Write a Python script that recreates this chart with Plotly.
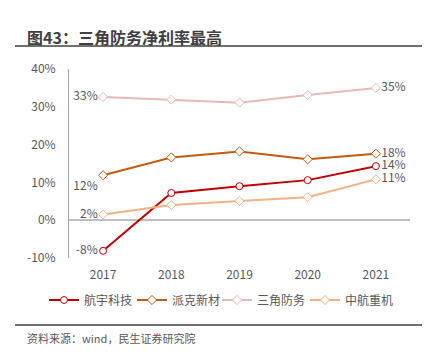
import plotly.graph_objects as go

years = ["2017", "2018", "2019", "2020", "2021"]
hangyu = [-8.1, 7.2, 9.0, 10.6, 14.3]
paike = [11.9, 16.6, 18.2, 16.1, 17.6]
sanjiao = [32.6, 31.9, 31.1, 33.1, 35.0]
zhonghang = [1.5, 4.0, 5.1, 6.1, 10.8]
series_names = ["航宇科技", "派克新材", "三角防务", "中航重机"]
colors = ["#C00000", "#C55A11", "#E6B9B8", "#F4B183"]
symbols = ["circle", "diamond", "diamond", "diamond"]
first_pos = ["middle left", "bottom left", "middle left", "middle left"]
y_ticks = [-10, 0, 10, 20, 30, 40]
y_tick_text = ["-10%", "0%", "10%", "20%", "30%", "40%"]

FONT = "Noto Sans CJK SC"
legend_ids = ["legend", "legend2", "legend3", "legend4"]
legend_x = [44, 132, 217, 305]

fig = go.Figure()
for name, vals, col, sym, fp, lid in zip(series_names, [hangyu, paike, sanjiao, zhonghang], colors, symbols, first_pos, legend_ids):
    texts = [f"{round(vals[0]):d}%"] + [""] * (len(vals) - 2) + [f"{round(vals[-1]):d}%"]
    positions = [fp] + ["middle right"] * (len(vals) - 1)
    fig.add_trace(go.Scatter(
        x=years, y=vals, name=name, mode="lines+markers+text",
        line=dict(color=col, width=2),
        marker=dict(symbol=sym, size=7, color="white", line=dict(color=col, width=1)),
        text=texts, textposition=positions,
        textfont=dict(size=12, color="#595959", family=FONT),
        cliponaxis=False, legend=lid,
    ))

legend_common = dict(orientation="h", xref="container", yref="container", y=1 - 300 / 357,
                     xanchor="left", yanchor="middle", font=dict(size=12, color="#595959", family=FONT),
                     itemwidth=30, bgcolor="rgba(0,0,0,0)")
legends = {lid: dict(x=lx / 440, **legend_common) for lid, lx in zip(legend_ids, legend_x)}

fig.update_layout(
    width=440, height=357,
    margin=dict(l=69, r=30, t=69, b=99, autoexpand=False),
    paper_bgcolor="white", plot_bgcolor="white",
    font=dict(family=FONT, color="#595959", size=12),
    showlegend=True,
    xaxis=dict(type="category", range=[-0.5, 4.5], showgrid=False, showline=False, ticks="",
               tickfont=dict(size=12, color="#595959"), ticklabelstandoff=8, automargin=False),
    yaxis=dict(range=[-10, 40], tickvals=y_ticks, ticktext=y_tick_text, showgrid=False,
               showline=True, linecolor="#A6A6A6", linewidth=1, ticks="",
               zeroline=True, zerolinecolor="#BFBFBF", zerolinewidth=1.5,
               tickfont=dict(size=12, color="#595959"), ticklabelstandoff=10, automargin=False),
    shapes=[
        dict(type="line", xref="paper", yref="paper", x0=-54/341, x1=353/341,
             y0=1 + 23/189, y1=1 + 23/189, line=dict(color="#404040", width=1.5)),
        dict(type="line", xref="paper", yref="paper", x0=-54/341, x1=353/341,
             y0=-67/189, y1=-67/189, line=dict(color="#404040", width=1.5)),
    ],
    annotations=[
        dict(text="<b>图43：三角防务净利率最高</b>", xref="paper", yref="paper",
             x=-44/341, y=1 + 32/189, xanchor="left", yanchor="middle", showarrow=False,
             font=dict(size=16, color="#404040", family=FONT)),
        dict(text="资料来源：wind，民生证券研究院", xref="paper", yref="paper",
             x=-44/341, y=-80/189, xanchor="left", yanchor="middle", showarrow=False,
             font=dict(size=11, color="#595959", family=FONT)),
    ],
    **legends,
)
fig.write_html("out.html", config={"displayModeBar": False},
               post_script="document.body.style.margin='0';")
